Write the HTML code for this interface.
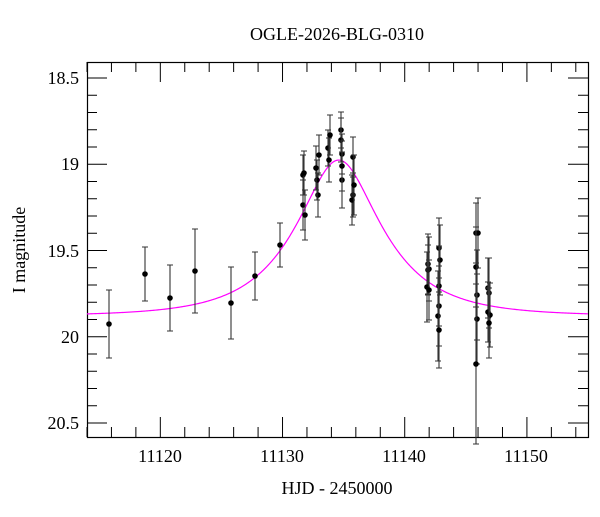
<!DOCTYPE html>
<html><head><meta charset="utf-8"><style>
body{margin:0;background:#fff}
text{font-family:"Liberation Serif",serif;fill:#000}
</style></head><body>
<svg width="600" height="512" viewBox="0 0 600 512" xmlns="http://www.w3.org/2000/svg">
<rect width="600" height="512" fill="#fff"/>
<text x="337" y="40" font-size="18">
<tspan x="337" text-anchor="middle">OGLE-2026-BLG-0310</tspan></text>
<g id="ticks" stroke="#000" stroke-width="1"></g>
<rect x="87.5" y="62.5" width="501" height="375" fill="none" stroke="#000" stroke-width="1.2"/>
<g font-size="18" text-anchor="end">
<text x="79" y="84">18.5</text><text x="79" y="170">19</text><text x="79" y="257">19.5</text><text x="79" y="343">20</text><text x="79" y="429">20.5</text>
</g>
<g font-size="18" text-anchor="middle">
<text x="160" y="462">11120</text><text x="282" y="462">11130</text><text x="404" y="462">11140</text><text x="526" y="462">11150</text>
</g>
<text x="337" y="494" font-size="18" text-anchor="middle">HJD - 2450000</text>
<text transform="translate(25,250) rotate(-90)" font-size="18" text-anchor="middle">I magnitude</text>
<path id="curve" fill="none" stroke="#ff00ff" stroke-width="1.2"/>
<g id="pts"></g>
</svg>
<script>
function X(t){return 87+(t-11114)*12.22}
function Y(m){return 78+(m-18.5)*172.5}
var g=document.getElementById("ticks"),s="";
for(var t=11114;t<=11155;t+=2){var x=X(t),L=(t%10==0)?20:10;s+='<line x1="'+x+'" y1="62" x2="'+x+'" y2="'+(62+L)+'"/><line x1="'+x+'" y1="437" x2="'+x+'" y2="'+(437-L)+'"/>';}
for(var i=0;i<=21;i++){var m=18.5+i*0.1,y=Y(m);if(y>437)break;var L=(i%5==0)?20:10;s+='<line x1="87" y1="'+y+'" x2="'+(87+L)+'" y2="'+y+'"/><line x1="588" y1="'+y+'" x2="'+(588-L)+'" y2="'+y+'"/>';}
g.innerHTML=s;
var d="";for(var px=87;px<=588;px+=1){var t=11114+(px-87)/12.22,tau=(t-11134.6)/6.2,u=Math.sqrt(0.47*0.47+tau*tau),A=(u*u+2)/(u*Math.sqrt(u*u+4));var m=19.88-2.5*Math.log10(A);d+=(px==87?"M":"L")+px+","+Y(m).toFixed(2);}
document.getElementById("curve").setAttribute("d",d);
var P=[[109,324,34],[145,274,27],[170,298,33],[195,271,42],[231,303,36],[255,276,24],[280,245,22],
[303,175,20],[304,173,22],[303,205,25],[305,215,25],[318,195,22],[317,180,20],[316,168,22],[319,155,20],[328,148,18],[329,160,22],[330,135,20],[341,130,18],[341,140,22],[342,154,20],[342,180,28],[342,166,25],[353,157,20],[353,195,22],[352,200,25],[354,185,30],
[428,264,30],[429,269,32],[428,270,25],[427,287,35],[429,290,30],[439,248,30],[440,260,35],[439,286,40],[439,306,40],[438,316,45],[439,330,38],
[476,233,30],[478,233,35],[476,267,40],[477,295,45],[477,319,45],[476,364,80],[488,288,30],[489,293,35],[488,312,30],[490,315,32],[489,323,35]];
var h="";P.forEach(function(p){var x=p[0],y=p[1],e=p[2];h+='<line x1="'+x+'" y1="'+(y-e)+'" x2="'+x+'" y2="'+(y+e)+'" stroke="#333" stroke-width="1.1"/><line x1="'+(x-3)+'" y1="'+(y-e)+'" x2="'+(x+3)+'" y2="'+(y-e)+'" stroke="#333"/><line x1="'+(x-3)+'" y1="'+(y+e)+'" x2="'+(x+3)+'" y2="'+(y+e)+'" stroke="#333"/><circle cx="'+x+'" cy="'+y+'" r="2.8" fill="#000"/>';});
document.getElementById("pts").innerHTML=h;
</script>
</body></html>
